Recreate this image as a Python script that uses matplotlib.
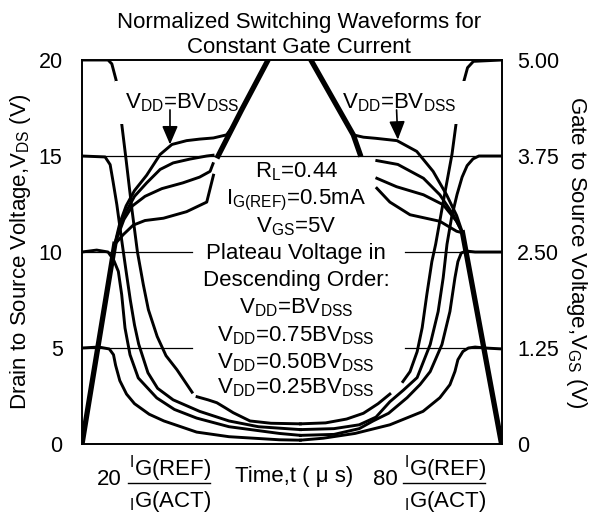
import numpy as np
import matplotlib
matplotlib.use('Agg')
import matplotlib.pyplot as plt
from matplotlib.lines import Line2D

plt.rcParams['font.family'] = ['Liberation Sans', 'DejaVu Sans']
plt.rcParams['mathtext.fontset'] = 'custom'
plt.rcParams['mathtext.rm'] = 'Liberation Sans'
plt.rcParams['mathtext.it'] = 'Liberation Sans:italic'
plt.rcParams['mathtext.bf'] = 'Liberation Sans:bold'
plt.rcParams['mathtext.default'] = 'regular'

N = None  # gap marker (curve hidden behind a label)

# ---------------- Drain-source voltage (left axis, V) ----------------
vds20_on_t = [0, 6.2, 7.1, 8.1, 8.6, 9.05, 10.5, 11.9, 13.2, 14.6, 15.8, 17.9, 20.0, 22.6, 26.2, N, 27.4, 30.0, 32.1, 34.0, 36.0, 40.0, 45.0, 52.0]
vds20_on_v = [20, 20, 19.8, 18.97, 18.3, 17.4, 14.8, 12.2, 10.0, 8.3, 7.0, 5.6, 4.6, 3.87, 2.7, N, 2.46, 2.3, 2.15, 1.9, 1.63, 1.2, 1.08, 1.05]

vds15_on_t = [0, 5.5, 6.7, 7.4, 8.3, 9.5, 10.5, 11.5, 12.5, 13.5, 15.7, 18.0, 21.7, 28.0, 35.0, 42.0, 52.0]
vds15_on_v = [15, 14.95, 14.55, 13.66, 12.46, 10.54, 9.0, 7.5, 6.2, 5.2, 3.71, 2.9, 2.3, 1.7, 1.2, 0.9, 0.75]

vds10_on_t = [0, 3.5, 6.2, 7.5, 8.65, 9.45, 10.24, 11.43, 13.4, 17.8, 22.0, 27.3, 35.0, 47.0, 52.0]
vds10_on_v = [10, 10.1, 10.0, 9.6, 8.99, 7.78, 6.04, 4.65, 3.44, 2.4, 1.8, 1.35, 0.9, 0.55, 0.45]

vds5_on_t = [0, 4.0, 6.5, 7.5, 8.0, 9.0, 10.6, 12.5, 16.0, 19.5, 27.3, 35.0, 47.0, 52.0]
vds5_on_v = [5, 5.05, 4.95, 4.65, 4.1, 3.3, 2.6, 2.1, 1.55, 1.2, 0.62, 0.38, 0.22, 0.2]

vds20_off_t = [52, 58, 63, 67, 70.5, 73.3, N, 76.4, 78.1, 79.8, 81.0, 82.1, 83.3, 84.2, 86.0, 88.1, 89.5, N, 90.8, 91.8, 93.2, 100]
vds20_off_v = [1.05, 1.1, 1.3, 1.6, 2.1, 2.6, N, 3.25, 3.77, 4.81, 6.06, 7.78, 9.5, 10.4, 12.6, 15.1, 17.4, N, 18.8, 19.6, 19.93, 20]

vds15_off_t = [52, 60, 66, 70, 73.3, 76.5, 79.8, 82.9, 84.8, 86.0, 86.9, 88.0, 89.3, 90.5, 91.7, 93.1, 94.5, 100]
vds15_off_v = [0.75, 0.8, 1.0, 1.4, 2.2, 2.8, 3.46, 5.18, 6.9, 8.66, 10.4, 11.8, 13.0, 13.9, 14.5, 14.85, 15.0, 15.0]

vds10_off_t = [52, 60, 66, 69.3, 73, 77.4, 80.5, 82.9, 85.7, 87.6, 88.8, 89.5, 90.3, 91.5, 93.6, 100]
vds10_off_v = [0.45, 0.5, 0.8, 1.2, 1.6, 2.41, 3.1, 3.77, 5.18, 6.9, 8.66, 9.5, 9.95, 10.05, 10.0, 10.0]

vds5_off_t = [52, 57.4, 65, 73.3, 81.2, 85.2, 87.6, 88.8, 89.5, 90.7, 92.0, 93.6, 96.0, 100]
vds5_off_v = [0.2, 0.3, 0.55, 1.0, 1.7, 2.41, 3.09, 3.78, 4.39, 4.82, 5.0, 5.05, 5.0, 4.95]

# ---------------- Gate-source voltage (right axis, V) ----------------
gs_on_low_t = [0, 7.8]
gs_on_low_v = [0, 2.6]
gs_on_up_t = [32.4, 38.0, 44.3]
gs_on_up_v = [3.75, 4.35, 5.0]

p1_on_t = [7.8, 9.0, 10.5, 12.5, 15.4, 18.6, 21.4, 24.9, 28, 31.3, 34.4, 36.8, 38.0]
p1_on_v = [2.6, 2.875, 3.1, 3.3, 3.5, 3.77, 3.9, 3.95, 3.97, 3.985, 4.025, 4.2, 4.35]
p2_on_t = [7.8, 9.0, 10.5, 12.5, 15.4, 18.6, 21.7, 25.7, 29.7, 31.2]
p2_on_v = [2.6, 2.825, 3.025, 3.225, 3.4, 3.575, 3.66, 3.71, 3.75, 3.76]
p3_on_t = [7.8, 8.8, 10, 12, 15, 19, 24, 28, 30.5, 31.2]
p3_on_v = [2.6, 2.75, 2.925, 3.1, 3.225, 3.325, 3.4, 3.475, 3.55, 3.65]
p4_on_t = [7.8, 9.8, 12.2, 15, 19.4, 24.9, 29.7, 31.3]
p4_on_v = [2.6, 2.725, 2.85, 2.91, 2.94, 3.025, 3.15, 3.5]

gs_off_up_t = [54.5, 64.6, 66.2]
gs_off_up_v = [5.0, 4.025, 3.775]
gs_off_low_t = [90.6, 99.9]
gs_off_low_v = [2.75, 0.0]

p1_off_t = [64.6, 67, 70, 75, 79.7, 83.6, 86.8, 89.2, 90.6]
p1_off_v = [4.025, 3.995, 3.98, 3.95, 3.81, 3.55, 3.245, 2.975, 2.75]
p2_off_t = [70.2, 75.2, 81.3, 85.2, 88.4, 90.6]
p2_off_v = [3.69, 3.64, 3.46, 3.245, 2.985, 2.75]
p3_off_t = [70.2, 74.9, 81.3, 86, 89.2, 90.6]
p3_off_v = [3.46, 3.35, 3.245, 3.115, 2.9, 2.75]
p4_off_t = [70.2, 73.3, 78.1, 85.2, 89.2, 90.6]
p4_off_v = [3.33, 3.15, 2.985, 2.9, 2.77, 2.75]

left_ticks = [0, 5, 10, 15, 20]
left_labels = ['0', '5', '10', '15', '20']
right_ticks = [0, 1.25, 2.5, 3.75, 5.0]
right_labels = ['0', '1.25', '2.50', '3.75', '5.00']

block_lines = [r'R$_L$=0.44', r'I$_{G(REF)}$=0.5mA', r'V$_{GS}$=5V',
               'Plateau Voltage in', 'Descending Order:',
               r'V$_{DD}$=BV$_{DSS}$', r'V$_{DD}$=0.75BV$_{DSS}$',
               r'V$_{DD}$=0.50BV$_{DSS}$', r'V$_{DD}$=0.25BV$_{DSS}$']

# ---------------- figure ----------------
W, H = 597, 513
fig = plt.figure(figsize=(W / 100, H / 100), dpi=100)
ax = fig.add_axes([82 / W, (H - 444) / H, 420 / W, 384 / H])
ax.set_xlim(0, 100)
ax.set_ylim(0, 20)
ax2 = ax.twinx()
ax2.set_ylim(0, 5)

FS = 16
TFS = 15.5
for a in (ax, ax2):
    for s in a.spines.values():
        s.set_linewidth(1.2)
        s.set_color('black')
ax.set_xticks([])
ax.set_yticks(left_ticks)
ax.set_yticklabels(left_labels)
ax.tick_params(axis='y', length=0, pad=14, labelsize=TFS)
ax2.set_yticks(right_ticks)
ax2.set_yticklabels(right_labels)
ax2.tick_params(axis='y', length=0, pad=11, labelsize=TFS)

# reference lines
ax.plot([0, 100], [15, 15], color='k', lw=0.9, zorder=1)
for yv in (10, 5):
    ax.plot([0, 26.2], [yv, yv], color='k', lw=0.9, zorder=1)
    ax.plot([76.9, 100], [yv, yv], color='k', lw=0.9, zorder=1)

def arr(a):
    return np.array([np.nan if x is None else x for x in a], dtype=float)

LW = 2.1
for t, v in [(vds20_on_t, vds20_on_v), (vds15_on_t, vds15_on_v), (vds10_on_t, vds10_on_v), (vds5_on_t, vds5_on_v),
             (vds20_off_t, vds20_off_v), (vds15_off_t, vds15_off_v), (vds10_off_t, vds10_off_v), (vds5_off_t, vds5_off_v)]:
    ax.plot(arr(t), arr(v), color='k', lw=LW, zorder=3, solid_joinstyle='round')

for t, v in [(p1_on_t, p1_on_v), (p2_on_t, p2_on_v), (p3_on_t, p3_on_v), (p4_on_t, p4_on_v),
             (p1_off_t, p1_off_v), (p2_off_t, p2_off_v), (p3_off_t, p3_off_v), (p4_off_t, p4_off_v)]:
    ax2.plot(t, v, color='k', lw=LW, zorder=3, solid_joinstyle='round')
for t, v in [(gs_on_low_t, gs_on_low_v), (gs_on_up_t, gs_on_up_v), (gs_off_up_t, gs_off_up_v), (gs_off_low_t, gs_off_low_v)]:
    ax2.plot(t, v, color='k', lw=3.8, zorder=3)

# central text block
block_y = [13.86, 12.46, 11.02, 9.64, 8.24, 6.79, 5.34, 3.96, 2.66]
for s, yv in zip(block_lines, block_y):
    ax2.text(51.0, yv / 4, s, ha='center', va='baseline', fontsize=FS, zorder=5)

# arrow labels
bb = dict(boxstyle='square,pad=0.45', fc='white', ec='none')
ax.text(23.8, 17.5, r'V$_{DD}$=BV$_{DSS}$', ha='center', va='baseline', fontsize=FS, bbox=bb, zorder=4)
ax.text(75.5, 17.5, r'V$_{DD}$=BV$_{DSS}$', ha='center', va='baseline', fontsize=FS, bbox=bb, zorder=4)
ap = dict(arrowstyle='-|>,head_length=0.7,head_width=0.3', color='k', lw=1.2, shrinkA=0, shrinkB=0)
ax.annotate('', xy=(20.95, 15.6), xytext=(20.95, 17.4), arrowprops=ap, zorder=6, fontsize=FS)
ax.annotate('', xy=(75.2, 15.85), xytext=(74.9, 17.4), arrowprops=ap, zorder=6, fontsize=FS)

def fx(p):
    return p / W

def fy(p):
    return 1 - p / H

# titles
fig.text(fx(299), fy(28), 'Normalized Switching Waveforms for', ha='center', va='baseline', fontsize=FS)
fig.text(fx(299), fy(53), 'Constant Gate Current', ha='center', va='baseline', fontsize=FS)

# axis labels
fig.text(fx(21), fy(252), r'Drain to Source Voltage,V$_{DS}$ (V)', rotation=90, ha='center', va='center', fontsize=FS)
fig.text(fx(577), fy(252), r'Gate to Source Voltage,V$_{GS}$ (V)', rotation=270, ha='center', va='center', fontsize=FS)

# bottom labels
fig.text(fx(294.5), fy(481.7), 'Time,t ( \u03bc s)', ha='center', va='baseline', fontsize=FS)
for num, x_right, x0, x1 in [('20', 122, 128, 210), ('80', 398, 403, 485)]:
    fig.text(fx(x_right), fy(485), num, ha='right', va='baseline', fontsize=FS)
    fig.text(fx(x0 + 1), fy(475), r'$^{I}$G(REF)', ha='left', va='baseline', fontsize=FS)
    fig.text(fx(x0 + 1), fy(506.7), r'$_{I}$G(ACT)', ha='left', va='baseline', fontsize=FS)
    fig.add_artist(Line2D([fx(x0), fx(x1)], [fy(483.3), fy(483.3)], color='k', lw=1.0))

fig.savefig('out.png', dpi=100)
